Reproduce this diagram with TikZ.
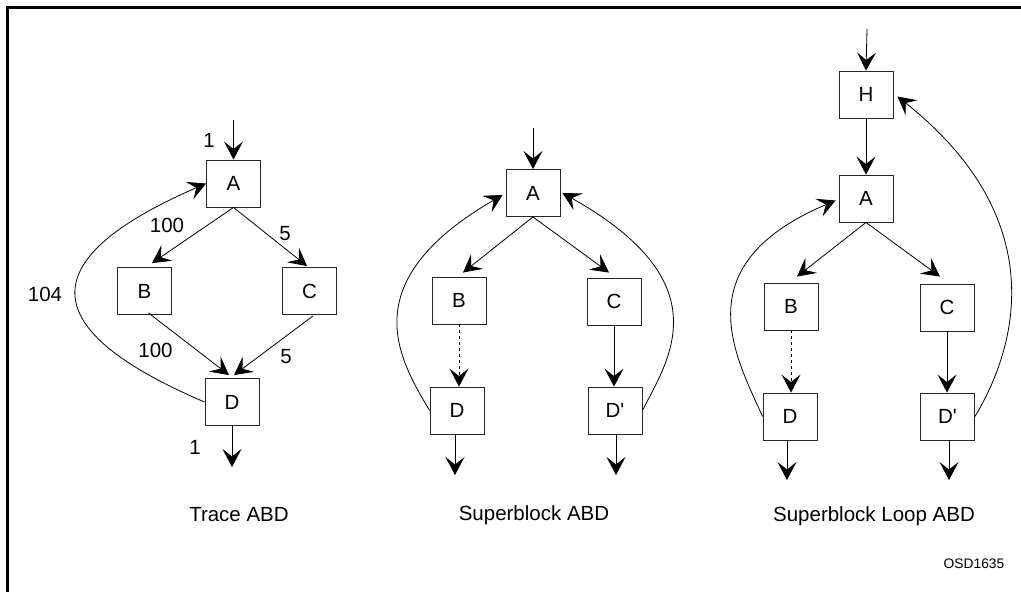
\documentclass[tikz,border=0pt]{standalone}
\usepackage{fontspec}
\setmainfont{Liberation Sans}
\usetikzlibrary{arrows.meta,calc}
\begin{document}
\begin{tikzpicture}[x=1pt,y=-1pt,
  blk/.style={draw=black!85,line width=0.9pt,minimum width=54pt,minimum height=47pt,inner sep=0pt,font=\fontsize{20.5}{22}\selectfont},
  lbl/.style={inner sep=0pt,font=\fontsize{20.5}{22}\selectfont},
  ttl/.style={inner sep=0pt,font=\fontsize{20.5}{22}\selectfont},
  arr/.style={line width=0.8pt,-{Stealth[length=18pt,width=19pt,inset=7.5pt]}},
  frame/.style={line width=3pt}]
\useasboundingbox (0,0) rectangle (1021,592);
\draw[frame] (7,592) -- (7,7) -- (1021,7);

% ---------- Panel 1: Trace ABD
\node[blk] (A1) at (233.5,183.5) {A};
\node[blk] (B1) at (144.5,291) {B};
\node[blk] (C1) at (309.5,291) {C};
\node[blk] (D1) at (232,402) {D};
\coordinate (in1) at (233.5,120);
\coordinate (out1) at (232,467);
\draw[arr] (in1) -- (A1.north);
\draw[arr] (A1.south) -- ($(B1.north)+(7.5,-4)$);
\draw[arr] (A1.south) -- ($(C1.north)+(-2.5,-1)$);
\draw[arr] ($(B1.south)+(4,-2)$) -- ($(D1.north)+(-3,-3)$);
\draw[arr] ($(C1.south)+(3.5,1)$) -- ($(D1.north)+(2,-3)$);
\draw[arr] (D1.south) -- (out1);
\draw[arr] (D1.west) .. controls (36,330) and (30,260) .. (A1.west);
\node[lbl] (l1) at (209,140) {1};
\node[lbl] (l100a) at (167,225) {100};
\node[lbl] (l5a) at (285,234) {5};
\node[lbl] (l104) at (45,294) {104};
\node[lbl] (l100b) at (155.5,350) {100};
\node[lbl] (l5b) at (286,357) {5};
\node[lbl] (l1b) at (195,447) {1};
\node[ttl] (t1) at (239,515) {Trace ABD};

% ---------- Panel 2: Superblock ABD
\node[blk] (A2) at (533,193) {A};
\node[blk] (B2) at (459,300.5) {B};
\node[blk] (C2) at (614,301.5) {C};
\node[blk] (D2) at (457,410.5) {D};
\node[blk] (Dp2) at (615,410.5) {D\textquotesingle};
\coordinate (in2) at (533,128);
\coordinate (out2a) at (455,475);
\coordinate (out2b) at (616,475);
\draw[arr] (in2) -- (A2.north);
\draw[arr] (A2.south) -- ($(B2.north)+(4,-4)$);
\draw[arr] (A2.south) -- ($(C2.north)+(-5,-5)$);
\draw[arr,dashed] (B2.south) -- (B2.south |- D2.north);
\draw[arr] (C2.south) -- (C2.south |- Dp2.north);
\draw[arr] (D2.south -| out2a) -- (out2a);
\draw[arr] (Dp2.south -| out2b) -- (out2b);
\draw[arr] (D2.west) .. controls (400,360) and (351,283) .. ($(A2.west)+(-3,2)$);
\draw[arr] (Dp2.east) .. controls (668,360) and (723,283) .. ($(A2.east)+(2,0)$);
\node[ttl] (t2) at (534,515) {Superblock ABD};

% ---------- Panel 3: Superblock Loop ABD
\node[blk] (H3) at (866,94.5) {H};
\node[blk] (A3) at (866,198.5) {A};
\node[blk] (B3) at (791,306.5) {B};
\node[blk] (C3) at (947,307.5) {C};
\node[blk] (D3) at (790,416.5) {D};
\node[blk] (Dp3) at (947.5,416.5) {D\textquotesingle};
\coordinate (in3) at (867,29);
\coordinate (out3a) at (787,480);
\coordinate (out3b) at (949,480);
\draw[arr] (in3) -- (H3.north);
\draw[arr] (H3.south) -- (A3.north);
\draw[arr] (A3.south) -- ($(B3.north)+(6,-6)$);
\draw[arr] (A3.south) -- ($(C3.north)+(-7,-7)$);
\draw[arr,dashed] (B3.south) -- (B3.south |- D3.north);
\draw[arr] (C3.south) -- (C3.south |- Dp3.north);
\draw[arr] (D3.south -| out3a) -- (out3a);
\draw[arr] (Dp3.south -| out3b) -- (out3b);
\draw[arr] (D3.west) .. controls (735,355) and (684,265) .. ($(A3.west)+(-3,2)$);
\draw[arr] (Dp3.east) .. controls (1003,370) and (1068,232) .. ($(H3.east)+(4,2)$);
\node[ttl] (t3) at (874,516) {Superblock Loop ABD};
\node[inner sep=0pt,font=\fontsize{13.8}{15}\selectfont] (osd) at (974,564) {OSD1635};
\end{tikzpicture}
\end{document}
